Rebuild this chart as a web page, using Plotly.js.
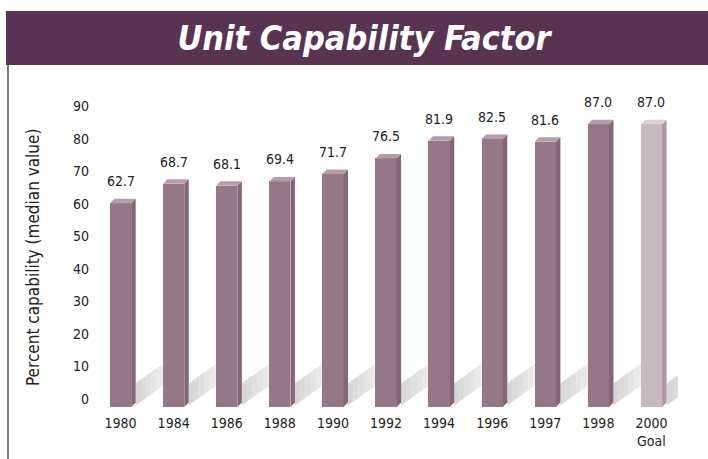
<!DOCTYPE html>
<html>
<head>
<meta charset="utf-8">
<script src="https://cdn.plot.ly/plotly-3.0.1.min.js"></script>
<style>html,body{margin:0;padding:0;background:#fff;}#chart{width:708px;height:459px;}</style>
</head>
<body>
<div id="chart"></div>
<script>
// ---- data ----
const categories = ['1980','1984','1986','1988','1990','1992','1994','1996','1997','1998','2000<br>Goal'];
const values = [62.7, 68.7, 68.1, 69.4, 71.7, 76.5, 81.9, 82.5, 81.6, 87.0, 87.0];
const valueLabels = ['62.7','68.7','68.1','69.4','71.7','76.5','81.9','82.5','81.6','87.0','87.0'];
const yTicks = [0,10,20,30,40,50,60,70,80,90];
const goalIndex = 10;

// ---- style ----
const FONT = '"DejaVu Sans Condensed", "Liberation Sans Narrow", "Roboto", sans-serif';
const W = 708, H = 459;
const M = {l: 94, r: 30, t: 82, b: 52};
const plotW = W - M.l - M.r, plotH = H - M.t - M.b;
const xRange = [-0.5, categories.length - 0.5];
const yRange = [0, 100];
const pxPerX = plotW / (xRange[1] - xRange[0]);
const pxPerY = plotH / (yRange[1] - yRange[0]);
const barW = 0.4;
const depthX = 4.5 / pxPerX;   // 3D depth in data units
const depthY = 4.5 / pxPerY;

const cFront = '#957887', cSide = '#846678', cTop = '#b49ca8';
const gFront = '#c8b9c0', gSide = '#ae98a3', gTop = '#ddd1d6';

const idx = categories.map((_, i) => i);
const fronts = idx.map(i => i === goalIndex ? gFront : cFront);

const traces = [];
// front faces: real bar trace
traces.push({
  type: 'bar', x: idx, y: values, width: barW,
  marker: {color: fronts, line: {width: 0}},
  hoverinfo: 'skip', showlegend: false
});
// side and top faces
idx.forEach(i => {
  const v = values[i];
  const xl = i - barW / 2, xr = i + barW / 2;
  traces.push({
    type: 'scatter', mode: 'lines', fill: 'toself',
    x: [xr, xr + depthX, xr + depthX, xr, xr],
    y: [0, depthY, v + depthY, v, 0],
    fillcolor: i === goalIndex ? gSide : cSide, line: {width: 0},
    hoverinfo: 'skip', showlegend: false
  });
  traces.push({
    type: 'scatter', mode: 'lines', fill: 'toself',
    x: [xl, xr, xr + depthX, xl + depthX, xl],
    y: [v, v, v + depthY, v + depthY, v],
    fillcolor: i === goalIndex ? gTop : cTop, line: {width: 0},
    hoverinfo: 'skip', showlegend: false
  });
});

// floor shadows (shapes below the traces), gradient in segments
const shapes = [];
const shadowLen = 42 / pxPerX;
const shadowSlope = 0.72 * pxPerX / pxPerY; // data units of y per unit x
const shadowThick = 22 / pxPerY;
const segs = 8;
const greys = ['#d6d6d6','#dadada','#dfdfdf','#e4e4e4','#e9e9e9','#eeeeee','#f2f2f2','#f7f7f7'];
idx.forEach(i => {
  const xs = i + barW / 2 + depthX;
  for (let k = 0; k < segs; k++) {
    const a = xs + shadowLen * k / segs, b = xs + shadowLen * (k + 1) / segs + 0.002;
    const ya = shadowSlope * (a - xs) + 0.5, yb = shadowSlope * (b - xs) + 0.5;
    shapes.push({
      type: 'path', xref: 'x', yref: 'y', layer: 'below',
      path: `M${a},${ya} L${b},${yb} L${b},${yb + shadowThick} L${a},${ya + shadowThick} Z`,
      fillcolor: greys[k], line: {width: 0}
    });
  }
});

// banner and left rule
const px2x = p => (p - M.l) / plotW;
const py2y = p => (H - M.b - p) / plotH;
shapes.push({type: 'rect', xref: 'paper', yref: 'paper', layer: 'below',
  x0: px2x(6), x1: px2x(709), y0: py2y(11), y1: py2y(65),
  fillcolor: '#583352', line: {width: 0}});
shapes.push({type: 'line', xref: 'paper', yref: 'paper',
  x0: px2x(8), x1: px2x(8), y0: py2y(65), y1: py2y(460),
  line: {color: '#222', width: 1.2}});

// value labels
const annotations = idx.map(i => ({
  x: i, y: values[i], xref: 'x', yref: 'y',
  text: valueLabels[i], showarrow: false, yshift: 22, yanchor: 'middle',
  font: {family: FONT, size: 14, color: '#222'}
}));
annotations.push({
  xref: 'paper', yref: 'paper', x: px2x(33), y: py2y(258),
  text: 'Percent capability (median value)', textangle: -90, showarrow: false,
  xanchor: 'center', yanchor: 'middle',
  font: {family: FONT, size: 17, color: '#222'}
});

const layout = {
  width: W, height: H, margin: M,
  paper_bgcolor: '#fff', plot_bgcolor: 'rgba(0,0,0,0)',
  title: {
    text: 'Unit Capability Factor', x: 364 / W, xanchor: 'center', xref: 'container',
    y: 1 - 38 / H, yanchor: 'middle', yref: 'container',
    font: {family: FONT, size: 34, color: '#ffffff', weight: 'bold', style: 'italic'}
  },
  xaxis: {
    range: xRange, tickvals: idx, ticktext: categories, showgrid: false, zeroline: false,
    showline: false, ticks: '', ticklabelstandoff: 6,
    tickfont: {family: FONT, size: 14, color: '#222'}, fixedrange: true
  },
  yaxis: {
    range: yRange, tickvals: yTicks, showgrid: false, zeroline: false, showline: false,
    ticks: '', ticklabelshift: -8, ticklabelstandoff: 4,
    tickfont: {family: FONT, size: 14, color: '#222'}, fixedrange: true
  },
  shapes: shapes, annotations: annotations, showlegend: false, bargap: 0
};

Plotly.newPlot('chart', traces, layout, {staticPlot: true, displayModeBar: false});
</script>
</body>
</html>
